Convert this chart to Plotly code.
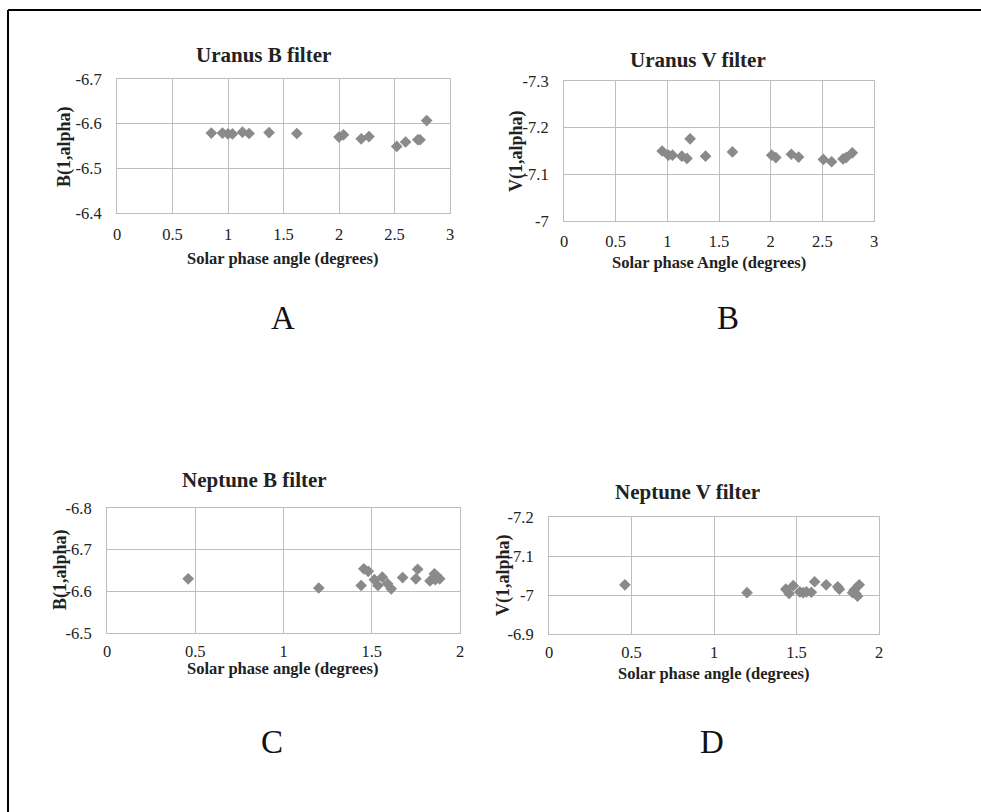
import plotly.graph_objects as go

W, H = 981, 812

# ---- data ----
uranus_b_x = [0.85, 0.95, 1.00, 1.04, 1.13, 1.19, 1.37, 1.62, 2.00, 2.04, 2.20, 2.27, 2.52, 2.60, 2.71, 2.73, 2.79]
uranus_b_y = [-6.579, -6.579, -6.577, -6.577, -6.581, -6.578, -6.580, -6.578, -6.570, -6.575, -6.566, -6.571, -6.549, -6.559, -6.564, -6.564, -6.607]

uranus_v_x = [0.95, 1.01, 1.05, 1.14, 1.19, 1.22, 1.37, 1.63, 2.01, 2.05, 2.20, 2.27, 2.51, 2.59, 2.70, 2.73, 2.79]
uranus_v_y = [-7.150, -7.141, -7.141, -7.139, -7.134, -7.176, -7.139, -7.148, -7.141, -7.136, -7.143, -7.137, -7.132, -7.127, -7.133, -7.136, -7.146]

neptune_b_x = [0.46, 1.20, 1.44, 1.455, 1.48, 1.515, 1.535, 1.56, 1.59, 1.61, 1.675, 1.75, 1.76, 1.83, 1.855, 1.86, 1.87, 1.885]
neptune_b_y = [-6.630, -6.608, -6.614, -6.654, -6.648, -6.628, -6.614, -6.634, -6.618, -6.606, -6.633, -6.630, -6.653, -6.625, -6.642, -6.628, -6.636, -6.630]

neptune_v_x = [0.46, 1.20, 1.435, 1.455, 1.48, 1.52, 1.54, 1.56, 1.59, 1.61, 1.68, 1.75, 1.76, 1.84, 1.85, 1.86, 1.87, 1.88]
neptune_v_y = [-7.026, -7.006, -7.015, -7.004, -7.024, -7.008, -7.006, -7.008, -7.007, -7.034, -7.026, -7.021, -7.015, -7.006, -7.013, -7.003, -6.997, -7.026]

x3_vals = [0, 0.5, 1, 1.5, 2, 2.5, 3]
x3_text = ["0", "0.5", "1", "1.5", "2", "2.5", "3"]
x2_vals = [0, 0.5, 1, 1.5, 2]
x2_text = ["0", "0.5", "1", "1.5", "2"]
ya_vals = [-6.7, -6.6, -6.5, -6.4]
ya_text = ["-6.7", "-6.6", "-6.5", "-6.4"]
yb_vals = [-7.3, -7.2, -7.1, -7.0]
yb_text = ["-7.3", "-7.2", "-7.1", "-7"]
yc_vals = [-6.8, -6.7, -6.6, -6.5]
yc_text = ["-6.8", "-6.7", "-6.6", "-6.5"]
yd_vals = [-7.2, -7.1, -7.0, -6.9]
yd_text = ["-7.2", "-7.1", "-7", "-6.9"]

titles = ["Uranus B filter", "Uranus V filter", "Neptune B filter", "Neptune V filter"]
xtitles = ["Solar phase angle (degrees)", "Solar phase Angle (degrees)",
           "Solar phase angle (degrees)", "Solar phase angle (degrees)"]
ytitles = ["B(1,alpha)", "V(1,alpha)", "B(1,alpha)", "V(1,alpha)"]
letters = ["A", "B", "C", "D"]

# ---- layout geometry (pixels) ----
panels = [
    dict(x=(117, 450), y=(79, 213), xr=[0, 3], yr=[-6.4, -6.7], xv=x3_vals, xt=x3_text, yv=ya_vals, yt=ya_text,
         xso=6, data=(uranus_b_x, uranus_b_y), title=(263, 55), xtitle=(282, 258), ytitle=(65, 147), letter=(283, 318)),
    dict(x=(564, 874), y=(81, 221), xr=[0, 3], yr=[-7.0, -7.3], xv=x3_vals, xt=x3_text, yv=yb_vals, yt=yb_text,
         xso=5, data=(uranus_v_x, uranus_v_y), title=(698, 60), xtitle=(709, 262), ytitle=(517, 151), letter=(728, 318)),
    dict(x=(107, 460), y=(508, 633), xr=[0, 2], yr=[-6.5, -6.8], xv=x2_vals, xt=x2_text, yv=yc_vals, yt=yc_text,
         xso=3, data=(neptune_b_x, neptune_b_y), title=(255, 480), xtitle=(282, 668), ytitle=(60, 570), letter=(272, 742)),
    dict(x=(549, 879), y=(517, 634), xr=[0, 2], yr=[-6.9, -7.2], xv=x2_vals, xt=x2_text, yv=yd_vals, yt=yd_text,
         xso=3, data=(neptune_v_x, neptune_v_y), title=(687, 492), xtitle=(713, 673), ytitle=(503, 575), letter=(712, 742)),
]

SERIF = "Liberation Serif, Times New Roman, serif"
TXT = "#222222"
GRID = "#bdbdbd"
MARK = "#8a8a8a"

fig = go.Figure()
layout = dict(width=W, height=H, margin=dict(l=0, r=0, t=0, b=0, pad=0, autoexpand=False),
              paper_bgcolor="white", plot_bgcolor="white", showlegend=False,
              font=dict(family=SERIF, color=TXT))
annotations = []

def px(x):
    return x / W

def py(y):
    return 1 - y / H

for i, p in enumerate(panels):
    n = "" if i == 0 else str(i + 1)
    xs, ys = p["data"]
    fig.add_trace(go.Scatter(x=xs, y=ys, mode="markers", xaxis="x" + n, yaxis="y" + n,
                             marker=dict(symbol="diamond", size=9, color=MARK), hoverinfo="x+y"))
    layout["xaxis" + n] = dict(domain=[px(p["x"][0]), px(p["x"][1])], range=p["xr"], anchor="y" + n,
                               tickvals=p["xv"], ticktext=p["xt"], showgrid=True, gridcolor=GRID, gridwidth=1,
                               showline=True, linecolor=GRID, mirror=True, zeroline=False, ticks="",
                               ticklabelstandoff=p["xso"], automargin=False,
                               tickfont=dict(size=16.5, color=TXT, family=SERIF), fixedrange=True)
    layout["yaxis" + n] = dict(domain=[py(p["y"][1]), py(p["y"][0])], range=p["yr"], anchor="x" + n,
                               tickvals=p["yv"], ticktext=p["yt"], showgrid=True, gridcolor=GRID, gridwidth=1,
                               showline=True, linecolor=GRID, mirror=True, zeroline=False, ticks="",
                               ticklabelstandoff=11, automargin=False,
                               tickfont=dict(size=16.5, color=TXT, family=SERIF), fixedrange=True)
    annotations.append(dict(text="<b>%s</b>" % titles[i], x=px(p["title"][0]), y=py(p["title"][1]),
                            xref="paper", yref="paper", showarrow=False, xanchor="center", yanchor="middle",
                            font=dict(size=21, family=SERIF, color=TXT)))
    annotations.append(dict(text="<b>%s</b>" % xtitles[i], x=px(p["xtitle"][0]), y=py(p["xtitle"][1]),
                            xref="paper", yref="paper", showarrow=False, xanchor="center", yanchor="middle",
                            font=dict(size=16.5, family=SERIF, color=TXT)))
    annotations.append(dict(text="<b>%s</b>" % ytitles[i], x=px(p["ytitle"][0]), y=py(p["ytitle"][1]),
                            xref="paper", yref="paper", showarrow=False, xanchor="center", yanchor="middle",
                            textangle=-90, font=dict(size=18, family=SERIF, color=TXT)))
    annotations.append(dict(text=letters[i], x=px(p["letter"][0]), y=py(p["letter"][1]),
                            xref="paper", yref="paper", showarrow=False, xanchor="center", yanchor="middle",
                            font=dict(size=33, family=SERIF, color="#111111")))

layout["annotations"] = annotations
layout["shapes"] = [
    dict(type="line", xref="paper", yref="paper", x0=px(8), x1=px(W + 5), y0=py(10), y1=py(10),
         line=dict(color="black", width=2)),
    dict(type="line", xref="paper", yref="paper", x0=px(8), x1=px(8), y0=py(10), y1=py(H + 5),
         line=dict(color="black", width=2)),
]
fig.update_layout(**layout)
fig.write_html("out.html")
